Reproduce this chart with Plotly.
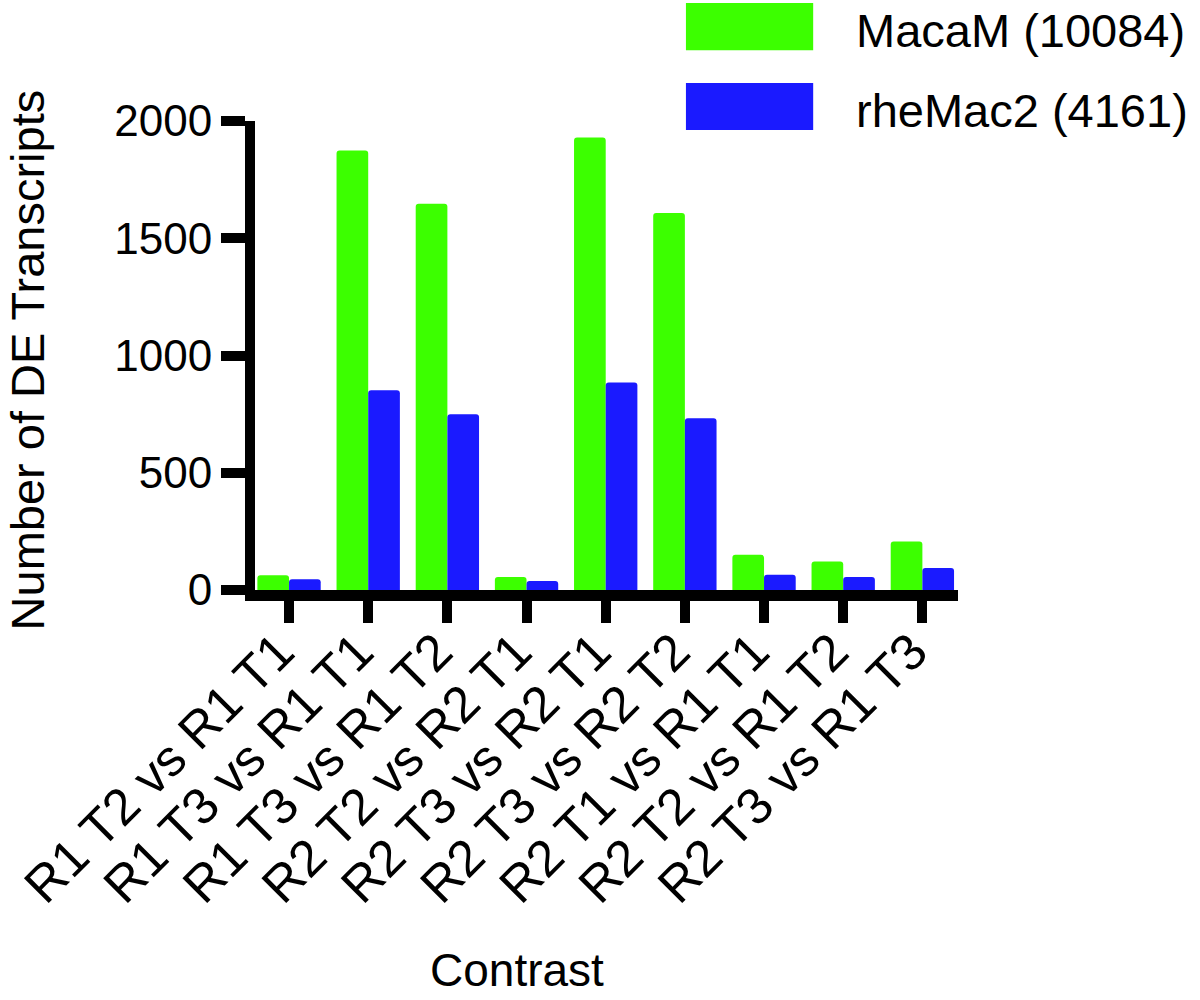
import plotly.graph_objects as go

categories = ["R1 T2 vs R1 T1", "R1 T3 vs R1 T1", "R1 T3 vs R1 T2",
              "R2 T2 vs R2 T1", "R2 T3 vs R2 T1", "R2 T3 vs R2 T2",
              "R2 T1 vs R1 T1", "R2 T2 vs R1 T2", "R2 T3 vs R1 T3"]
macam = [63, 1874, 1647, 55, 1930, 1608, 150, 122, 207]
rhemac2 = [46, 852, 750, 38, 885, 732, 65, 55, 94]
series_names = ["MacaM (10084)", "rheMac2 (4161)"]
series_colors = ["#3cff00", "#1a1aff"]
y_ticks = [0, 500, 1000, 1500, 2000]

FONT = "Liberation Sans, Arial, sans-serif"

fig = go.Figure()
for name, vals, col in zip(series_names, [macam, rhemac2], series_colors):
    fig.add_trace(go.Bar(x=list(range(len(categories))), y=vals, name=name,
                         marker=dict(color=col, line=dict(width=0), cornerradius=3),
                         showlegend=False))

fig.update_layout(
    width=1200, height=1000,
    margin=dict(l=255, r=242, t=121, b=410, autoexpand=False),
    paper_bgcolor="white", plot_bgcolor="white",
    barmode="group", bargap=0.2, bargroupgap=0,
    font=dict(family=FONT, color="black", size=44),
)
fig.update_xaxes(
    range=[-0.43, 8.45], tickmode="array", tickvals=list(range(len(categories))),
    ticktext=categories, tickangle=-45, showline=True, linecolor="black",
    linewidth=11, ticks="outside", ticklen=22, tickwidth=10, tickcolor="black",
    showgrid=False, zeroline=False, ticklabelstandoff=-22, ticklabelshift=-10,
    tickfont=dict(size=51, family=FONT, color="black"),
)
fig.update_yaxes(
    range=[0, 2000], tickmode="array", tickvals=y_ticks,
    ticktext=[str(v) for v in y_ticks], showline=True, linecolor="black",
    linewidth=10, ticks="outside", ticklen=24, tickwidth=10, tickcolor="black",
    showgrid=False, zeroline=False, tickfont=dict(size=44, family=FONT, color="black"),
)

# axis titles
fig.add_annotation(text="Number of DE Transcripts", textangle=-90, x=-0.324, y=0.49,
                   xref="paper", yref="paper", xanchor="center", yanchor="middle",
                   showarrow=False, borderpad=0,
                   font=dict(size=47, family=FONT, color="black"))
fig.add_annotation(text="Contrast", x=0.373, y=-0.81, xref="paper", yref="paper",
                   xanchor="center", yanchor="middle", showarrow=False,
                   font=dict(size=46, family=FONT, color="black"))

# legend
leg_y = [(1.2516, 1.151), (1.081, 0.981)]
for (y1, y0), name, col in zip(leg_y, series_names, series_colors):
    fig.add_shape(type="rect", xref="paper", yref="paper", x0=0.613, x1=0.794,
                  y0=y0, y1=y1, fillcolor=col, line=dict(width=0))
    fig.add_annotation(text=name, x=0.853, y=(y0 + y1) / 2 - 0.008, xref="paper", yref="paper",
                       xanchor="left", yanchor="middle", showarrow=False, borderpad=0,
                       font=dict(size=47, family=FONT, color="black"))

fig.write_html("out.html", config={"displayModeBar": False},
               post_script="document.body.style.margin='0';")
